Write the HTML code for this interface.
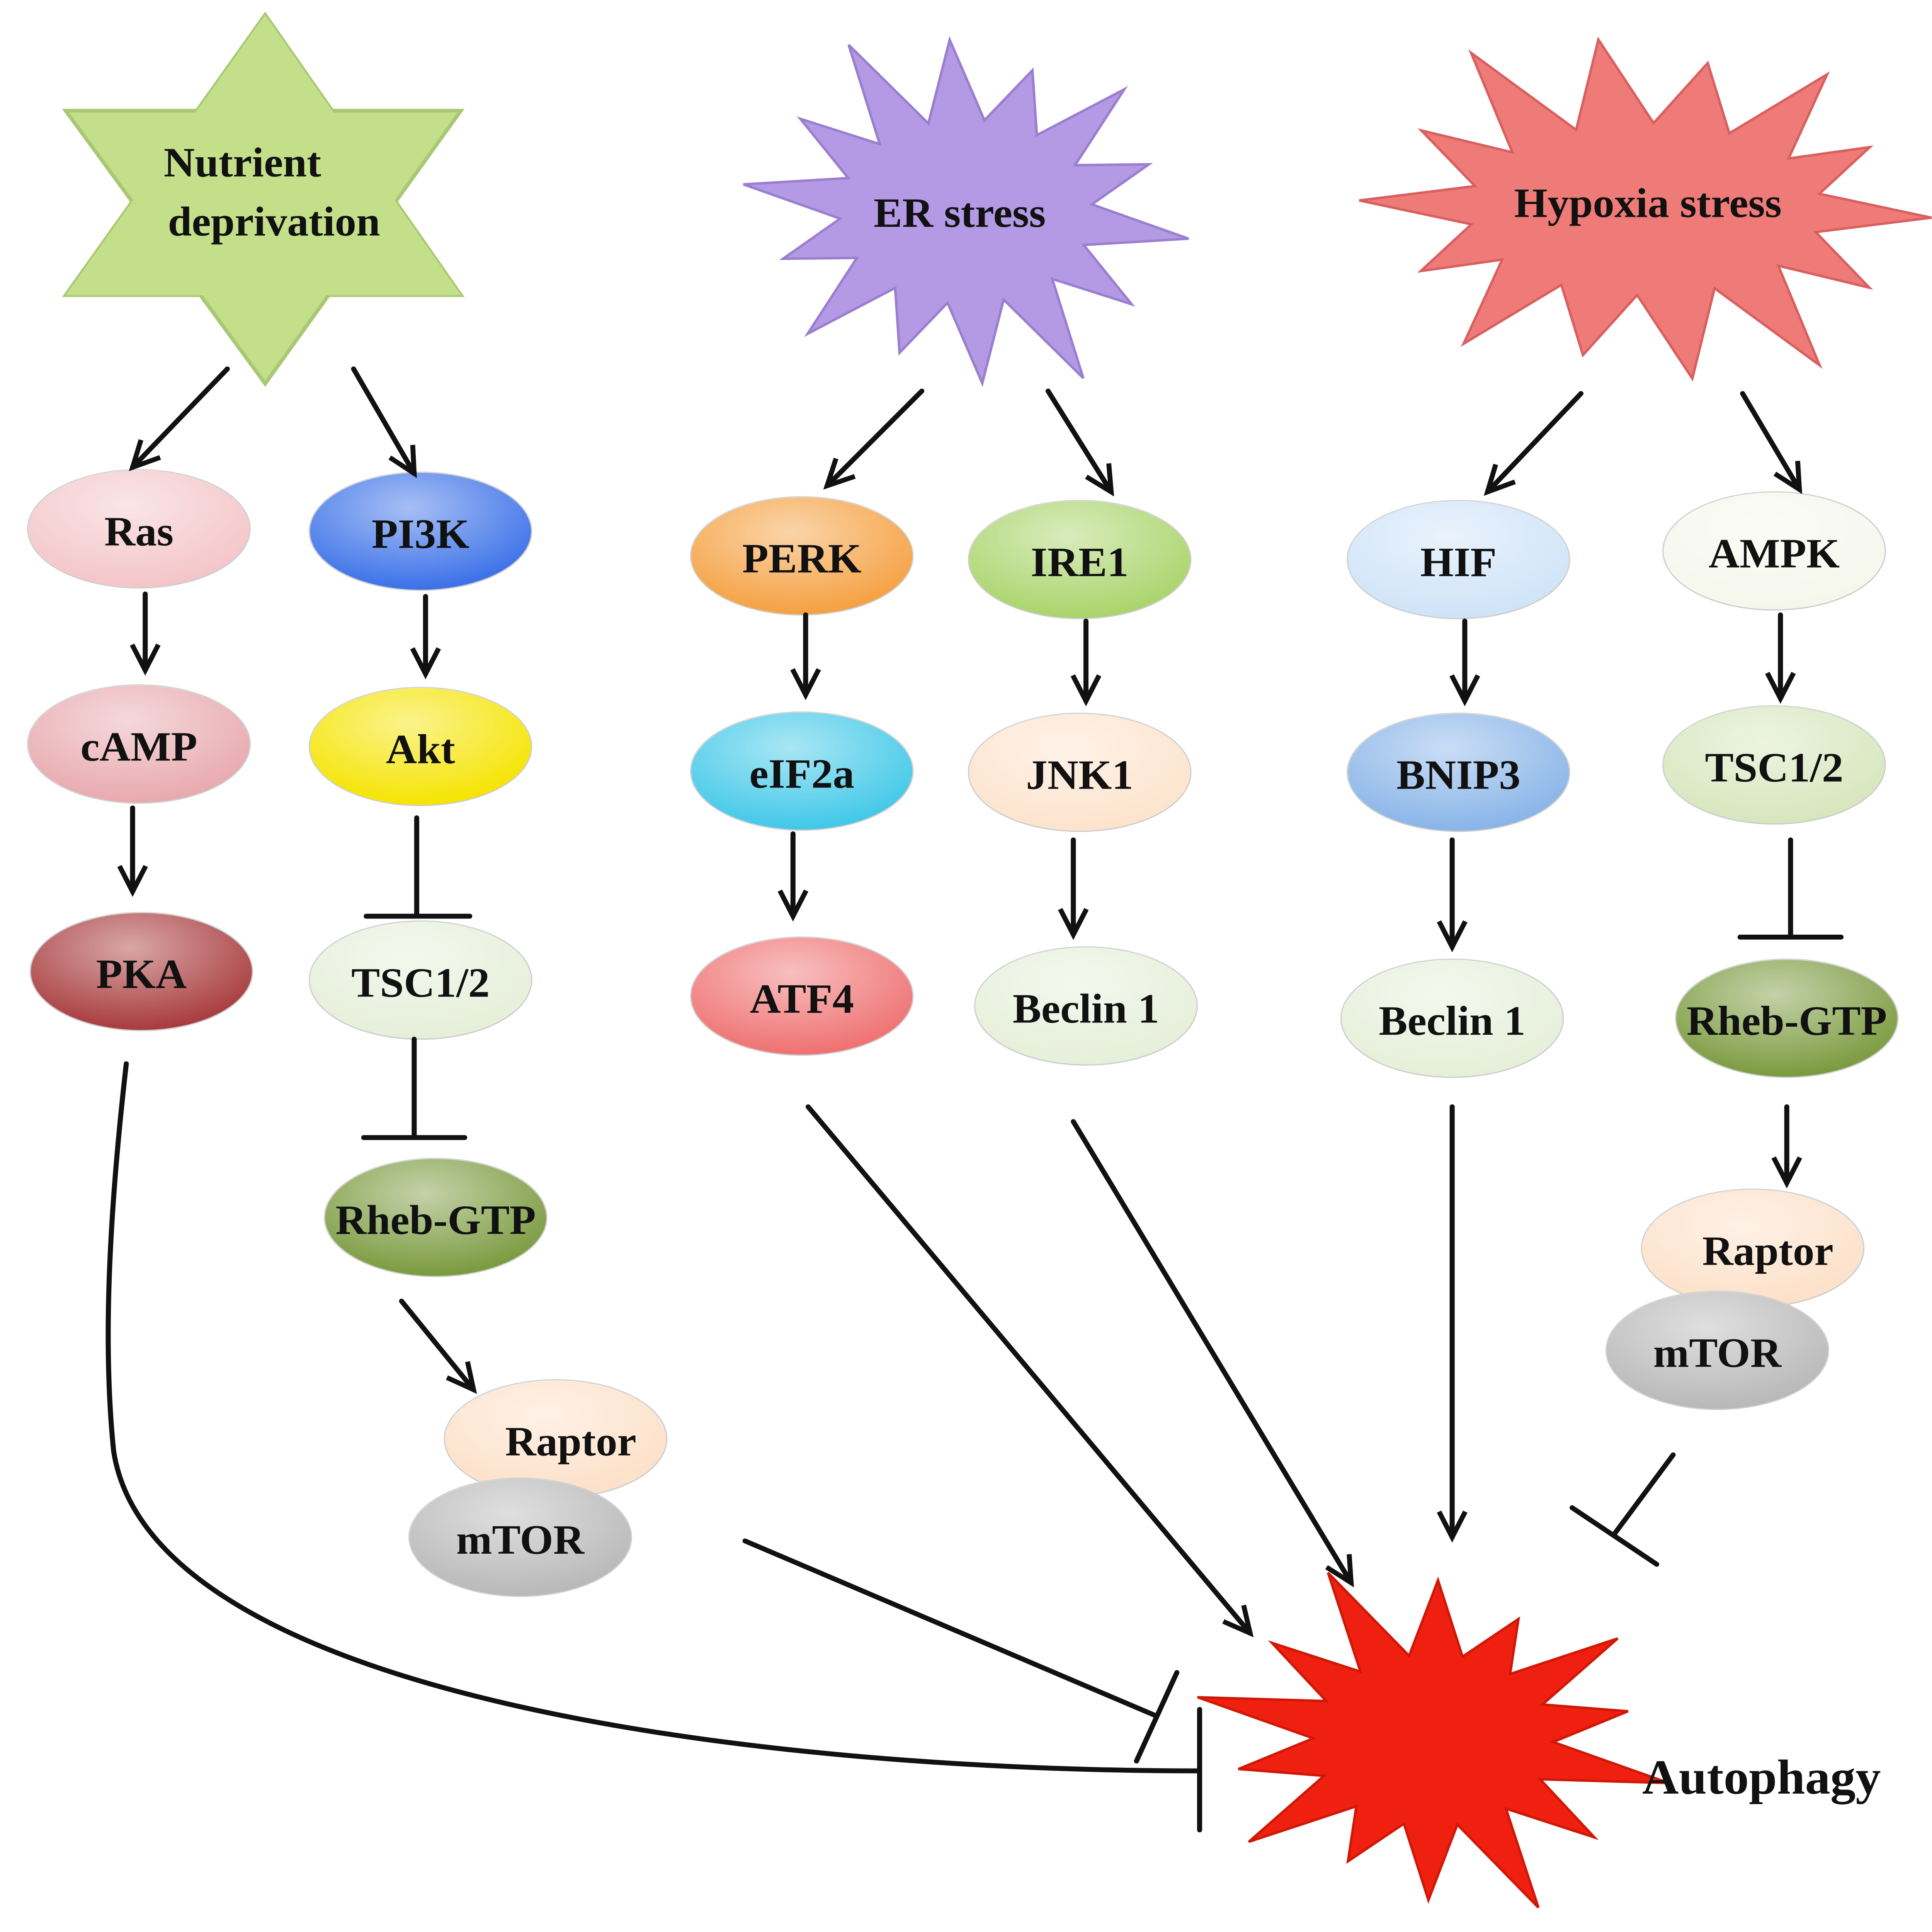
<!DOCTYPE html>
<html><head><meta charset="utf-8"><style>
html,body{margin:0;padding:0;background:#fff;overflow:hidden;width:100%;height:100%;}
svg{display:block;position:fixed;left:0;top:0;width:100vw;height:100vh;}
text{font-family:"Liberation Serif",serif;font-weight:bold;fill:#111;text-anchor:middle;dominant-baseline:central;}
</style></head><body>
<svg id="s" viewBox="0 0 1530 1571" preserveAspectRatio="none" xmlns="http://www.w3.org/2000/svg">
<defs>
<marker id="a" viewBox="0 0 20 20" refX="18" refY="10" markerWidth="26" markerHeight="26" orient="auto" markerUnits="userSpaceOnUse" style="overflow:visible">
<path d="M2,2 L18,10 L2,18" fill="none" stroke="#111" stroke-width="3"/>
</marker>
<radialGradient id="g" cx="0.45" cy="0.3" r="0.7"><stop offset="0" stop-color="#fff" stop-opacity="0.55"/><stop offset="1" stop-color="#fff" stop-opacity="0"/></radialGradient>
</defs>
<polygon points="210,12 52,240 365,240" fill="#c3df8a" stroke="#a9c874" stroke-width="3"/>
<polygon points="52,90 365,90 210,312" fill="#c3df8a" stroke="#a9c874" stroke-width="3"/>
<polygon points="210,12 52,240 365,240" fill="#c3df8a"/>
<text x="192" y="132" font-size="34">Nutrient</text>
<text x="217" y="180" font-size="34">deprivation</text>
<polygon id="p1" fill="#b49ae4" stroke="#9a7fd0" stroke-width="2"/>
<text x="760" y="173" font-size="34">ER stress</text>
<polygon id="p2" fill="#ef7b78" stroke="#d86060" stroke-width="2"/>
<text x="1305" y="165" font-size="34">Hypoxia stress</text>
<polygon id="p3" fill="#f02010" stroke="#d01808" stroke-width="2"/>
<text x="1395" y="1445" font-size="40">Autophagy</text>
<g id="ells"></g>
<g stroke="#111" stroke-width="4" fill="none" stroke-linecap="round">
<line x1="180" y1="300" x2="105" y2="380" marker-end="url(#a)"/>
<line x1="280" y1="300" x2="328" y2="385" marker-end="url(#a)"/>
<line x1="115" y1="483" x2="115" y2="545" marker-end="url(#a)"/>
<line x1="105" y1="657" x2="105" y2="725" marker-end="url(#a)"/>
<line x1="337" y1="485" x2="337" y2="548" marker-end="url(#a)"/>
<line x1="330" y1="665" x2="330" y2="745"/><line x1="290" y1="745" x2="372" y2="745"/>
<line x1="328" y1="845" x2="328" y2="925"/><line x1="288" y1="925" x2="368" y2="925"/>
<line x1="318" y1="1058" x2="375" y2="1130" marker-end="url(#a)"/>
<line x1="730" y1="318" x2="655" y2="395" marker-end="url(#a)"/>
<line x1="830" y1="318" x2="880" y2="400" marker-end="url(#a)"/>
<line x1="638" y1="500" x2="638" y2="565" marker-end="url(#a)"/>
<line x1="628" y1="678" x2="628" y2="745" marker-end="url(#a)"/>
<line x1="860" y1="505" x2="860" y2="570" marker-end="url(#a)"/>
<line x1="850" y1="683" x2="850" y2="760" marker-end="url(#a)"/>
<line x1="1252" y1="320" x2="1178" y2="400" marker-end="url(#a)"/>
<line x1="1380" y1="320" x2="1425" y2="398" marker-end="url(#a)"/>
<line x1="1160" y1="505" x2="1160" y2="570" marker-end="url(#a)"/>
<line x1="1410" y1="500" x2="1410" y2="568" marker-end="url(#a)"/>
<line x1="1150" y1="683" x2="1150" y2="770" marker-end="url(#a)"/>
<line x1="1418" y1="683" x2="1418" y2="762"/><line x1="1378" y1="762" x2="1458" y2="762"/>
<line x1="1415" y1="900" x2="1415" y2="962" marker-end="url(#a)"/>
<line x1="640" y1="900" x2="990" y2="1328" marker-end="url(#a)"/>
<line x1="850" y1="912" x2="1070" y2="1287" marker-end="url(#a)"/>
<line x1="1150" y1="900" x2="1150" y2="1250" marker-end="url(#a)"/>
<line x1="1325" y1="1183" x2="1278" y2="1248"/><line x1="1245" y1="1226" x2="1312" y2="1272"/>
<line x1="590" y1="1253" x2="915" y2="1395"/><line x1="932" y1="1360" x2="900" y2="1432"/>
<path d="M100,865 C85,1000 82,1100 90,1180 C120,1380 600,1440 950,1440"/>
<line x1="950" y1="1390" x2="950" y2="1488"/>
</g>
</svg>
<script>
function star(id,cx,cy,rx,ry,ix,iy,n,rot,jit){var p=[];for(var i=0;i<2*n;i++){var a=rot+Math.PI*i/n;var o=i%2==0;var f=o?(1+((i*37)%7-3)*jit):1;var x=cx+Math.cos(a)*(o?rx:ix)*f,y=cy+Math.sin(a)*(o?ry:iy)*f;p.push(x.toFixed(1)+","+y.toFixed(1));}document.getElementById(id).setAttribute("points",p.join(" "));}
star("p1",765,172,165,140,100,75,14,-1.2,0.04);
star("p2",1303,170,210,140,140,70,14,-1.3,0.04);
star("p3",1135,1415,175,130,95,70,14,-1.1,0.05);
var E=[["Ras",110,430,"#f4c5c8"],["PI3K",333,432,"#3a70e8"],["cAMP",110,605,"#e8a9ae"],["Akt",333,607,"#f5e400"],["PKA",112,790,"#a83a3c"],["TSC1/2",333,797,"#e6efd9"],["Rheb-GTP",345,990,"#7a9a3e"],["Raptor",440,1170,"#fde0c8"],["mTOR",412,1250,"#b8b8b8"],
["PERK",635,452,"#f5a040"],["IRE1",855,455,"#a9d46a"],["eIF2a",635,627,"#40c8e8"],["JNK1",855,628,"#fde3cc"],["ATF4",635,810,"#ef7070"],["Beclin 1",860,818,"#e6efd9"],
["HIF",1155,455,"#cfe3f8"],["AMPK",1405,448,"#f5f7ec"],["BNIP3",1155,628,"#88b4e8"],["TSC1/2",1405,622,"#d6e6bc"],["Beclin 1",1150,828,"#e6efd9"],["Rheb-GTP",1415,828,"#7a9a3e"],["Raptor",1388,1015,"#fde0c8"],["mTOR",1360,1098,"#b8b8b8"]];
var g=document.getElementById("ells"),h="";
E.forEach(function(e){h+='<ellipse cx="'+e[1]+'" cy="'+e[2]+'" rx="88" ry="48" fill="'+e[3]+'" stroke="#ccc" stroke-width="1"/><ellipse cx="'+e[1]+'" cy="'+e[2]+'" rx="88" ry="48" fill="url(#g)"/><text x="'+(e[1]+(e[0]=="Raptor"?12:0))+'" y="'+(e[2]+2)+'" font-size="34">'+e[0]+'</text>';});
g.innerHTML=h;
</script>
</body></html>
